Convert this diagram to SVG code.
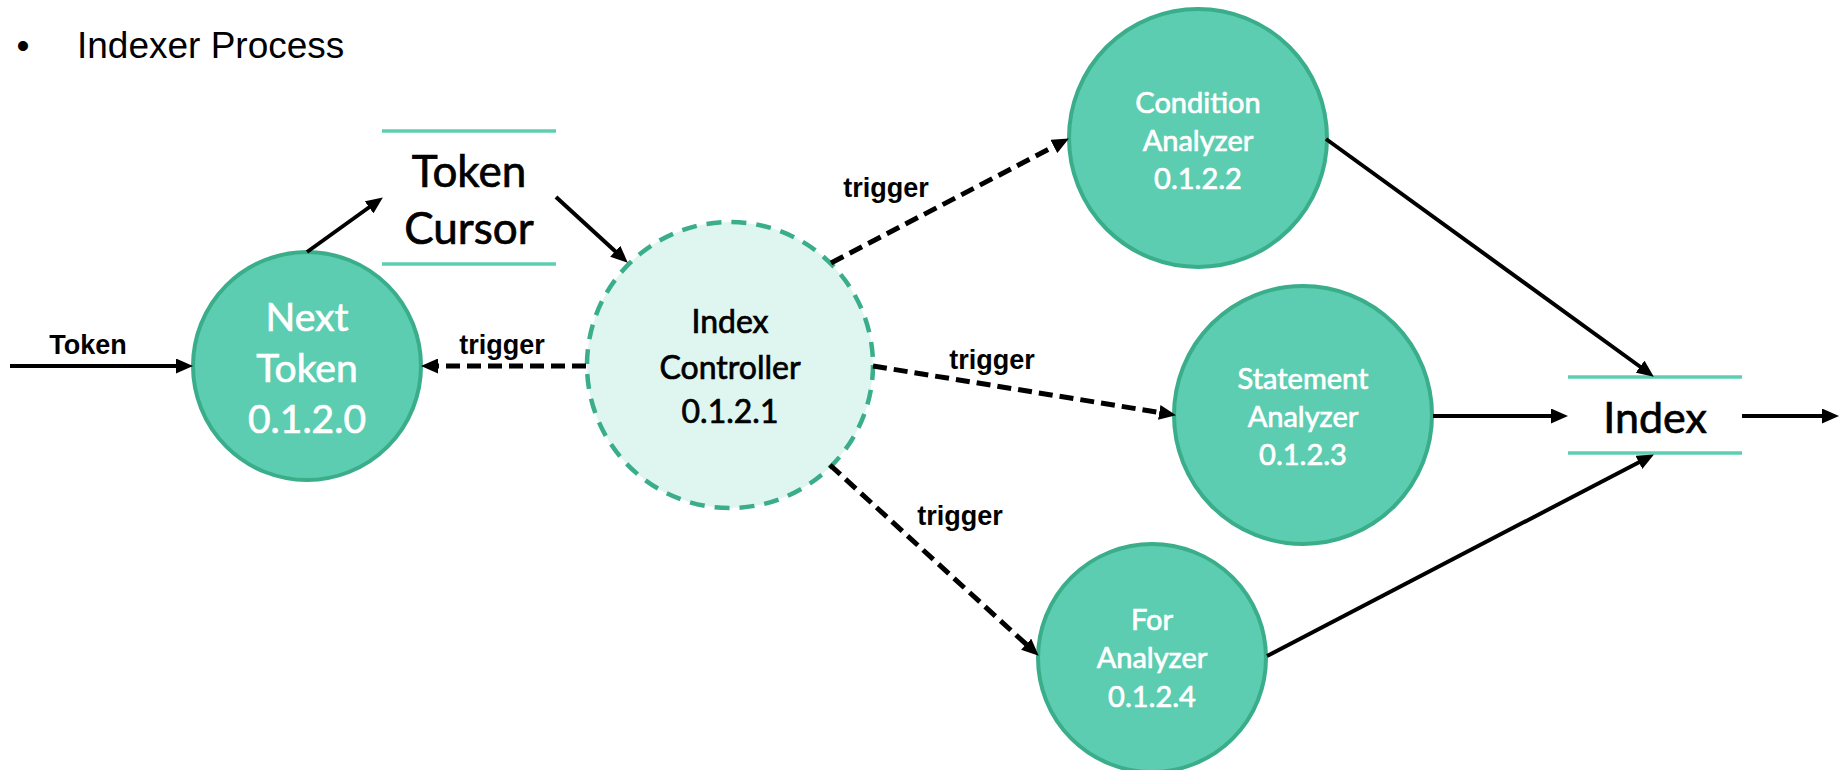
<svg xmlns="http://www.w3.org/2000/svg" width="1840" height="770" viewBox="0 0 1840 770">
  <style>
    .proc { fill: #5ccdb0; stroke: #3aad8b; stroke-width: 4; }
    .ctrl { fill: #dff5ef; stroke: #3aad8b; stroke-width: 4.5; stroke-dasharray: 15 10; }
    .store { stroke: #5dcfb0; stroke-width: 3.5; }
    .lbl-w { font-family: Lato, "Open Sans", sans-serif; fill: #ffffff; stroke: #ffffff; stroke-width: 0.7; text-anchor: middle; }
    .lbl-b { font-family: Lato, "Open Sans", sans-serif; fill: #000000; stroke: #000000; stroke-width: 0.7; text-anchor: middle; }
    .flow { stroke: #000000; stroke-width: 4; fill: none; marker-end: url(#head); }
    .trig { stroke: #000000; stroke-width: 5; fill: none; stroke-dasharray: 14 7; marker-end: url(#head); }
    .edge-lbl { font-family: "Liberation Sans", Arial, sans-serif; font-weight: bold; font-size: 27px; fill: #000000; text-anchor: middle; }
    .title { font-family: "Liberation Sans", Arial, sans-serif; font-size: 37px; fill: #000000; }
  </style>
  <defs>
    <marker id="head" markerUnits="userSpaceOnUse" markerWidth="17" markerHeight="15" refX="4" refY="7.5" orient="auto">
      <path d="M0,0 L17,7.5 L0,15 Z" fill="#000000"/>
    </marker>
  </defs>

  <rect width="1840" height="770" fill="#ffffff"/>

  <!-- heading -->
  <g id="heading">
    <text class="title" x="23" y="58" text-anchor="middle">•</text>
    <text class="title" x="77" y="58">Indexer Process</text>
  </g>

  <!-- process 0.1.2.0 -->
  <g id="next-token">
    <circle class="proc" cx="307" cy="366" r="114"/>
    <text class="lbl-w" font-size="39" x="307" y="331">Next</text>
    <text class="lbl-w" font-size="39" x="307" y="382">Token</text>
    <text class="lbl-w" font-size="39" x="307" y="433">0.1.2.0</text>
  </g>

  <!-- data store: Token Cursor -->
  <g id="token-cursor">
    <line class="store" x1="382" y1="131" x2="556" y2="131"/>
    <line class="store" x1="382" y1="264" x2="556" y2="264"/>
    <text class="lbl-b" font-size="44" x="469" y="187">Token</text>
    <text class="lbl-b" font-size="44" x="469" y="244">Cursor</text>
  </g>

  <!-- control process 0.1.2.1 -->
  <g id="index-controller">
    <circle class="ctrl" cx="730" cy="365" r="143"/>
    <text class="lbl-b" font-size="32" x="730" y="333">Index</text>
    <text class="lbl-b" font-size="32" x="730" y="379">Controller</text>
    <text class="lbl-b" font-size="32" x="730" y="423">0.1.2.1</text>
  </g>

  <!-- process 0.1.2.2 -->
  <g id="condition-analyzer">
    <circle class="proc" cx="1198" cy="138" r="129"/>
    <text class="lbl-w" font-size="29" x="1198" y="113">Condition</text>
    <text class="lbl-w" font-size="29" x="1198" y="151">Analyzer</text>
    <text class="lbl-w" font-size="29" x="1198" y="189">0.1.2.2</text>
  </g>

  <!-- process 0.1.2.3 -->
  <g id="statement-analyzer">
    <circle class="proc" cx="1303" cy="415" r="129"/>
    <text class="lbl-w" font-size="29" x="1303" y="389">Statement</text>
    <text class="lbl-w" font-size="29" x="1303" y="427">Analyzer</text>
    <text class="lbl-w" font-size="29" x="1303" y="465">0.1.2.3</text>
  </g>

  <!-- process 0.1.2.4 -->
  <g id="for-analyzer">
    <circle class="proc" cx="1152" cy="658" r="114"/>
    <text class="lbl-w" font-size="29" x="1152" y="630">For</text>
    <text class="lbl-w" font-size="29" x="1152" y="668">Analyzer</text>
    <text class="lbl-w" font-size="29" x="1152" y="707">0.1.2.4</text>
  </g>

  <!-- data store: Index -->
  <g id="index-store">
    <line class="store" x1="1568" y1="377" x2="1742" y2="377"/>
    <line class="store" x1="1568" y1="453" x2="1742" y2="453"/>
    <text class="lbl-b" font-size="43" x="1655" y="433">Index</text>
  </g>

  <!-- data flows and triggers -->
  <g id="connectors">
    <line class="flow" x1="10" y1="366" x2="180" y2="366"/>
    <text class="edge-lbl" x="88" y="354">Token</text>

    <line class="flow" x1="307" y1="252" x2="372.3" y2="205"/>
    <line class="flow" x1="556" y1="197" x2="618.2" y2="253.9"/>

    <line class="trig" x1="586" y1="366" x2="434" y2="366"/>
    <text class="edge-lbl" x="502" y="354">trigger</text>

    <line class="trig" x1="831" y1="263" x2="1057.4" y2="144.6"/>
    <text class="edge-lbl" x="886" y="197">trigger</text>

    <line class="trig" x1="873" y1="366" x2="1163.2" y2="413.1"/>
    <text class="edge-lbl" x="992" y="369">trigger</text>

    <line class="trig" x1="830" y1="465" x2="1029.1" y2="646.9"/>
    <text class="edge-lbl" x="960" y="525">trigger</text>

    <line class="flow" x1="1326" y1="139" x2="1643.3" y2="369"/>
    <line class="flow" x1="1433" y1="416" x2="1555" y2="416"/>
    <line class="flow" x1="1267" y1="656" x2="1642.4" y2="460.5"/>
    <line class="flow" x1="1742" y1="416" x2="1826" y2="416"/>
  </g>
</svg>
